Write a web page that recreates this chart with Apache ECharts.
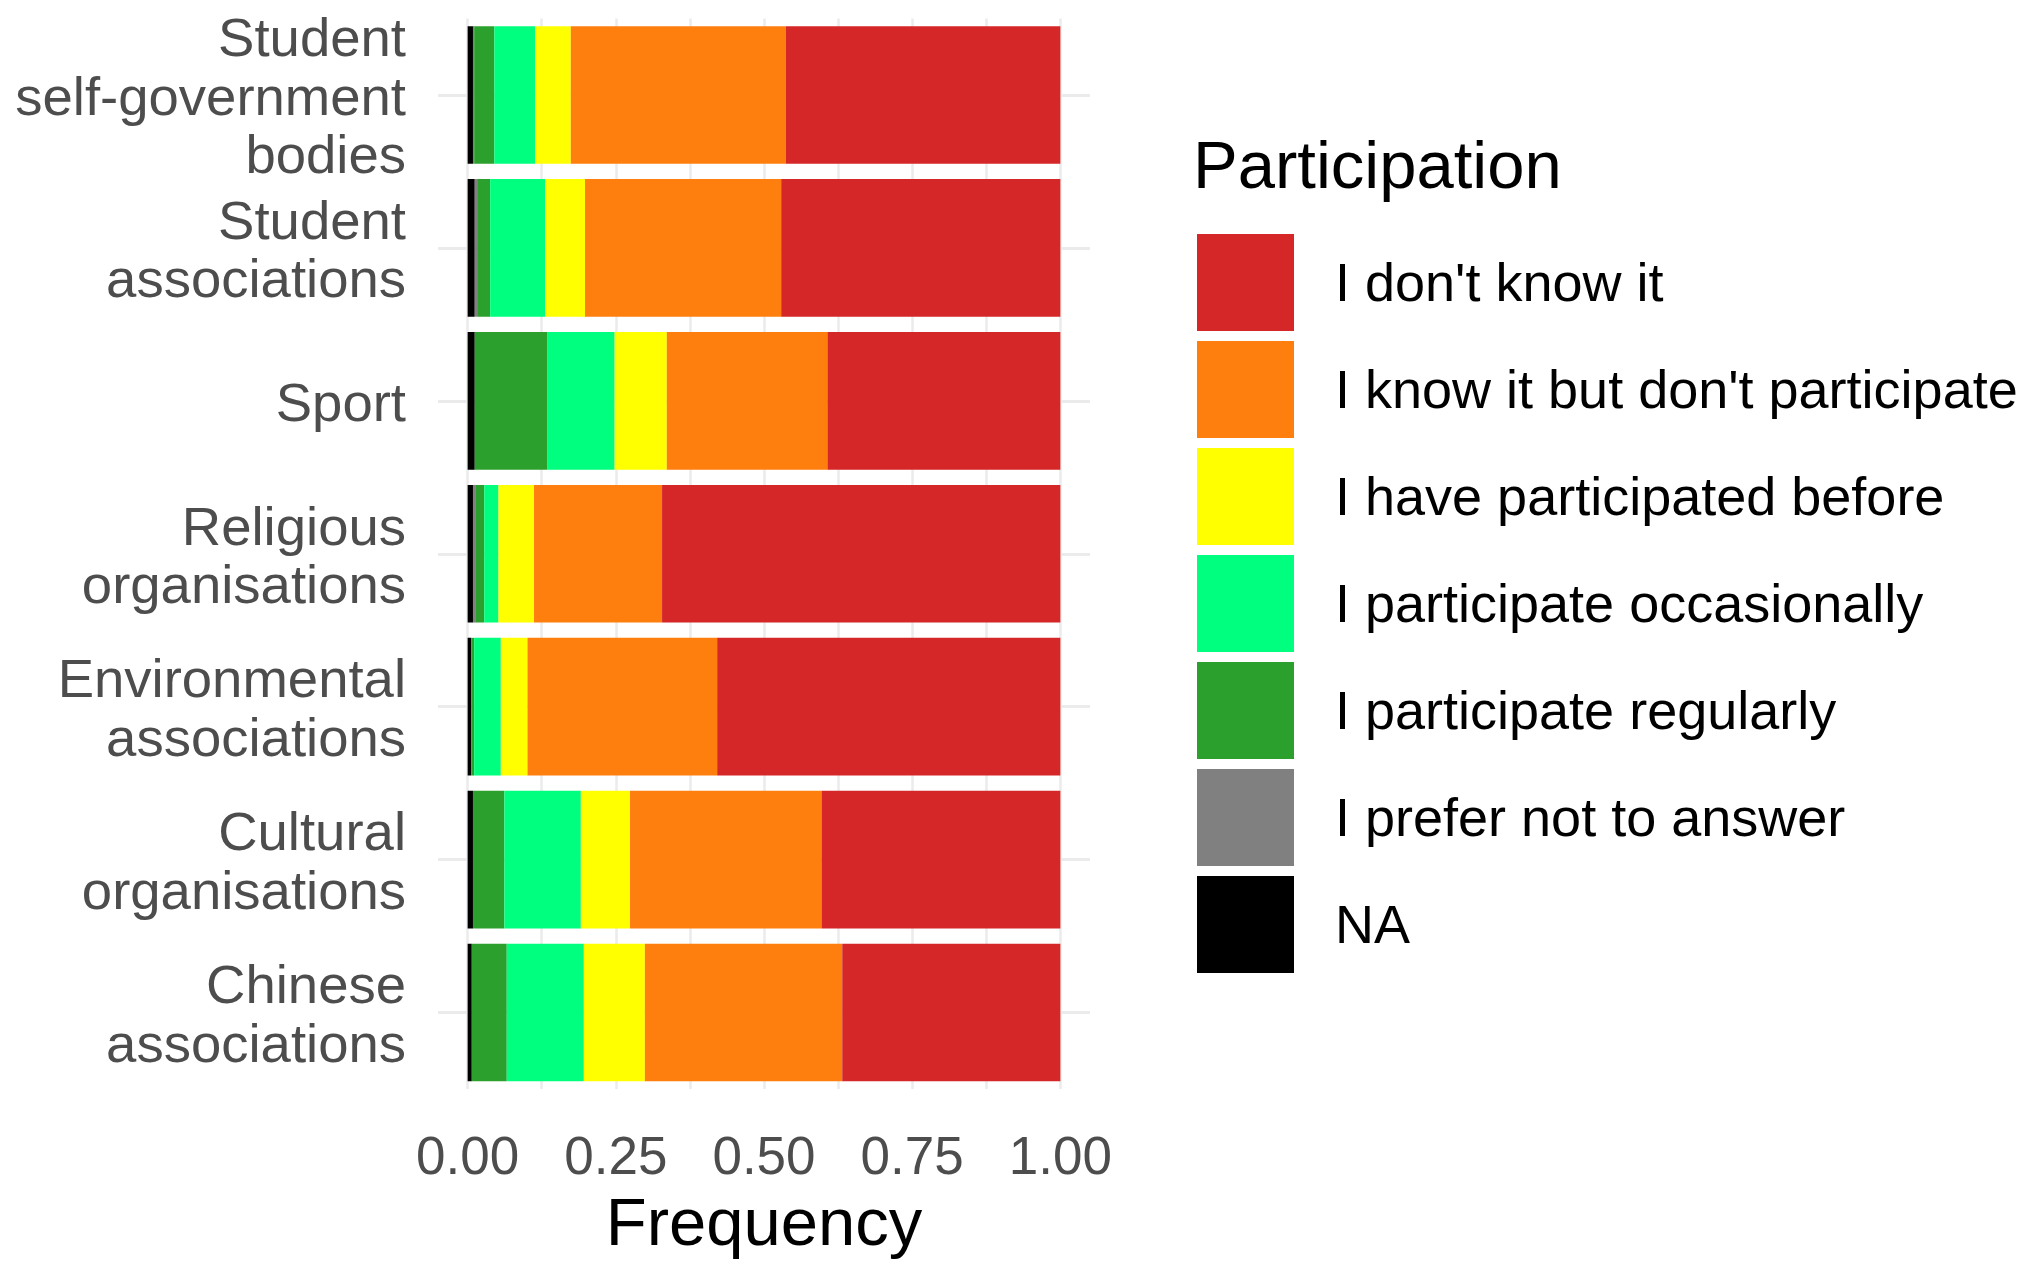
<!DOCTYPE html>
<html>
<head>
<meta charset="utf-8">
<script src="https://cdn.jsdelivr.net/npm/echarts@6/dist/echarts.min.js"></script>
<style>
html,body{margin:0;padding:0;background:#fff;}
#chart{width:2039px;height:1265px;}
</style>
</head>
<body>
<div id="chart"></div>
<script>
// Categories (top to bottom)
const categories = [
  "Student\nself-government\nbodies",
  "Student\nassociations",
  "Sport",
  "Religious\norganisations",
  "Environmental\nassociations",
  "Cultural\norganisations",
  "Chinese\nassociations"
];
// Response levels (legend order)
const levels = [
  "I don't know it",
  "I know it but don't participate",
  "I have participated before",
  "I participate occasionally",
  "I participate regularly",
  "I prefer not to answer",
  "NA"
];
const levelColors = ["#D62728", "#FF7F0E", "#FFFF00", "#00FF7F", "#2CA02C", "#808080", "#000000"];

// Frequencies per category (same order as categories)
const naValues          = [0.009, 0.012, 0.012, 0.009, 0.006, 0.009, 0.007];
const preferNotValues   = [0.002, 0.004, 0.000, 0.005, 0.000, 0.000, 0.000];
const regularlyValues   = [0.034, 0.022, 0.122, 0.014, 0.005, 0.053, 0.059];
const occasionallyValues= [0.069, 0.093, 0.114, 0.024, 0.045, 0.129, 0.130];
const beforeValues      = [0.060, 0.067, 0.088, 0.060, 0.045, 0.083, 0.103];
const knowValues        = [0.363, 0.331, 0.271, 0.216, 0.320, 0.323, 0.333];
const dontKnowValues    = [0.463, 0.471, 0.393, 0.672, 0.579, 0.403, 0.368];

const xTickLabels = [0, 0.25, 0.5, 0.75, 1];
const xGridValues = [0, 0.125, 0.25, 0.375, 0.5, 0.625, 0.75, 0.875, 1];

// stacking order left -> right
const stackOrder = [
  ["NA", naValues],
  ["I prefer not to answer", preferNotValues],
  ["I participate regularly", regularlyValues],
  ["I participate occasionally", occasionallyValues],
  ["I have participated before", beforeValues],
  ["I know it but don't participate", knowValues],
  ["I don't know it", dontKnowValues]
];

const FONT = 'Liberation Sans, Arial, sans-serif';

const series = stackOrder.map(([name, vals], i) => {
  const s = {
    name: name,
    type: 'bar',
    stack: 'total',
    barCategoryGap: '10%',
    z: 2,
    itemStyle: { color: levelColors[levels.indexOf(name)] },
    emphasis: { disabled: true },
    data: vals
  };
  if (i === 0) {
    s.markLine = {
      silent: true,
      symbol: ['none', 'none'],
      z: 1,
      label: { show: false },
      lineStyle: { color: '#ebebeb', width: 3, type: 'solid' },
      data: categories.map(c => ({ yAxis: c }))
    };
  }
  return s;
});

const chart = echarts.init(document.getElementById('chart'), null, { renderer: 'canvas' });
chart.setOption({
  animation: false,
  backgroundColor: '#ffffff',
  textStyle: { fontFamily: FONT },
  title: {
    text: 'Participation',
    left: 1188,
    top: 131,
    textStyle: { fontFamily: FONT, fontSize: 67, fontWeight: 'normal', color: '#000' }
  },
  legend: {
    orient: 'vertical',
    left: 1192,
    top: 229,
    itemWidth: 97,
    itemHeight: 97,
    itemGap: 10,
    icon: 'rect',
    selectedMode: false,
    data: levels,
    formatter: name => '{t|' + name + '}',
    textStyle: {
      fontFamily: FONT, fontSize: 54, color: '#000',
      rich: { t: { fontFamily: FONT, fontSize: 54, color: '#000', lineHeight: 54, padding: [8, 0, 0, 36] } }
    }
  },
  grid: { left: 438, right: 949, top: 18.5, bottom: 172, containLabel: false },
  xAxis: {
    type: 'value',
    min: -0.05,
    max: 1.05,
    name: 'Frequency',
    nameLocation: 'middle',
    nameGap: 104,
    nameTextStyle: { fontFamily: FONT, fontSize: 67, color: '#000' },
    axisLine: { show: false },
    axisTick: { show: false, customValues: xGridValues },
    axisLabel: {
      customValues: xTickLabels,
      formatter: v => v.toFixed(2),
      fontSize: 53,
      color: '#4d4d4d',
      margin: 44
    },
    splitLine: { show: true, lineStyle: { color: '#ebebeb', width: 2.5 } }
  },
  yAxis: {
    type: 'category',
    inverse: true,
    data: categories,
    axisLine: { show: false },
    axisTick: { show: false },
    splitLine: { show: false },
    axisLabel: {
      interval: 0,
      fontSize: 54.5,
      color: '#4d4d4d',
      align: 'right',
      margin: 32,
      formatter: v => v.split('\n').map(l => '{a|' + l + '}').join('\n'),
      rich: { a: { fontFamily: FONT, fontSize: 54.5, color: '#4d4d4d', lineHeight: 58.5, padding: [10, 0, 0, 0] } }
    }
  },
  series: series
});
</script>
</body>
</html>
